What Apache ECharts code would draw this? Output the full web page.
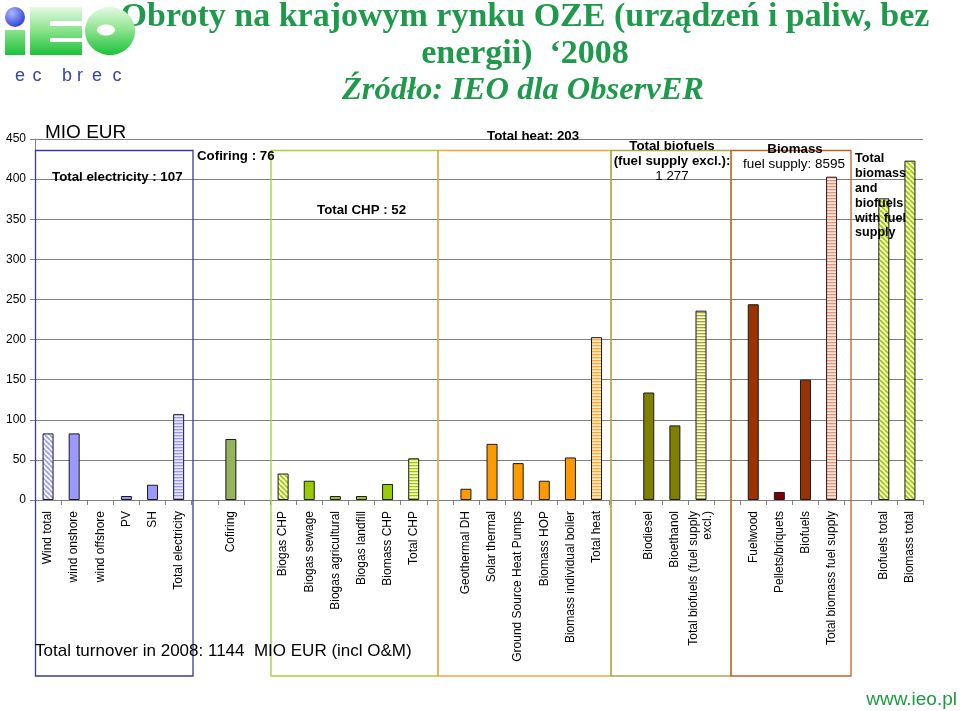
<!DOCTYPE html>
<html><head><meta charset="utf-8">
<script src="https://cdn.jsdelivr.net/npm/echarts@6/dist/echarts.min.js"></script>
<style>html,body{margin:0;padding:0;background:#fff}#c{width:960px;height:711px}</style>
</head><body><div id="c"></div>
<script>
// ---- data ----
const categories = ['Wind total','wind onshore','wind offshore','PV','SH','Total electricity','','Cofiring','',
  'Biogas CHP','Biogas sewage','Biogas agricultural','Biogas landfill','Biomass CHP','Total CHP','',
  'Geothermal DH','Solar thermal','Ground Source Heat Pumps','Biomass HOP','Biomass individual boiler','Total heat','',
  'Biodiesel','Bioethanol','Total biofuels (fuel supply\nexcl.)','',
  'Fuelwood','Pellets/briquets','Biofuels','Total biomass fuel supply','',
  'Biofuels total','Biomass total'];
const values = [83,83,0,5,19,107,null,76,null,
  33,24,5,5,20,52,null,
  14,70,46,24,53,203,null,
  134,93,236,null,
  244,10,150,403,null,
  376,423];
const barKinds = ['blueDiag','blue','blue','blue','blue','blueStripe',null,'cofiring',null,
  'greenDiag','green','green','green','green','greenStripe',null,
  'orange','orange','orange','orange','orange','orangeStripe',null,
  'olive','olive','oliveStripe',null,
  'brown','darkred','brown','salmonStripe',null,
  'greenDiag','greenDiag'];
const yMin = 0, yMax = 450, yStep = 50;

// ---- patterns ----
function diag(bg, fg){
  const s = 5, c = document.createElement('canvas'); c.width = s; c.height = s;
  const g = c.getContext('2d'); g.fillStyle = bg; g.fillRect(0,0,s,s);
  g.strokeStyle = fg; g.lineWidth = 1.7;
  [-s,0,s].forEach(dx=>{ g.beginPath(); g.moveTo(dx,0); g.lineTo(dx+s,s); g.stroke(); });
  return {image: c, repeat: 'repeat'};
}
function stripe(bg, fg){
  const c = document.createElement('canvas'); c.width = 4; c.height = 3;
  const g = c.getContext('2d'); g.fillStyle = bg; g.fillRect(0,0,4,3);
  g.fillStyle = fg; g.fillRect(0,0,4,1.3);
  return {image: c, repeat: 'repeat'};
}
const fills = {
  blue: '#9999FF',
  blueDiag: diag('#FFFFFF', '#9999FF'),
  blueStripe: stripe('#E8E8FF', '#9999FF'),
  cofiring: '#92B45A',
  green: '#99CC00',
  greenDiag: diag('#FFFFCC', '#99CC00'),
  greenStripe: stripe('#FFFFCC', '#99CC00'),
  orange: '#FF9900',
  orangeStripe: stripe('#FFEBC8', '#FFA830'),
  olive: '#808000',
  oliveStripe: stripe('#FFFFCC', '#A0A040'),
  brown: '#993300',
  darkred: '#800000',
  salmonStripe: stripe('#FFE8E0', '#F08C78')
};
const seriesData = values.map((v,i)=> v === null ? '-' : {
  value: v,
  itemStyle: {color: fills[barKinds[i]], borderColor: '#1a1a1a', borderWidth: v === 0 ? 0 : 1}
});

const chart = echarts.init(document.getElementById('c'), null, {renderer: 'canvas'});
const F = 'Liberation Sans, Arial, sans-serif';
const boxes = [
  {x: 35.5, x2: 193, color: '#3A3A96'},
  {x: 271, x2: 438, color: '#A8CC3C'},
  {x: 438, x2: 611, color: '#F2A640'},
  {x: 611, x2: 731, color: '#A8A84A'},
  {x: 731, x2: 851, color: '#C0602A'}
];
const gradGreen = {type:'linear', x:0, y:7, x2:0, y2:56, global:true,
  colorStops:[{offset:0,color:'#E4FAE4'},{offset:0.45,color:'#8FE48F'},{offset:1,color:'#18C038'}]};
const graphic = [];
boxes.forEach(b=>graphic.push({type:'rect', z:100, shape:{x:b.x, y:150.5, width:b.x2-b.x, height:525.5},
  style:{fill:'none', stroke:b.color, lineWidth:1.3}}));
const B = 'bold 13.3px ' + F;
function txt(x, y, t, o){ graphic.push({type:'text', z:101, x, y, style:Object.assign({text:t, font:B, fill:'#000', textVerticalAlign:'middle'}, o||{})}); }
txt(45, 133, 'MIO EUR', {font:'19px '+F});
txt(52, 177, 'Total electricity : 107');
txt(197, 156, 'Cofiring : 76');
txt(317, 210, 'Total CHP : 52');
txt(487, 136, 'Total heat: 203');
txt(672, 146, 'Total biofuels', {textAlign:'center'});
txt(672, 161, '(fuel supply excl.):', {textAlign:'center'});
txt(672, 176, '1 277', {textAlign:'center', font:'13.3px '+F});
txt(795, 149, 'Biomass', {textAlign:'center'});
txt(794, 164, 'fuel supply: 8595', {textAlign:'center', font:'13.5px '+F});
['Total','biomass','and','biofuels','with fuel','supply'].forEach((s,i)=>txt(855, 159 + i*14.8, s, {font:'bold 12.6px '+F}));
txt(35, 651, 'Total turnover in 2008: 1144  MIO EUR (incl O&M)', {font:'17px '+F});
// title
const TF = 'bold 34px Liberation Serif, Times New Roman, serif';
txt(525, 17, 'Obroty na krajowym rynku OZE (urządzeń i paliw, bez', {textAlign:'center', font:TF, fill:'#1F9A4C'});
txt(525, 54, 'energii)  \u20182008', {textAlign:'center', font:TF, fill:'#1F9A4C'});
txt(523, 91, 'Źródło: IEO dla ObservER', {textAlign:'center', font:'italic bold 32.5px Liberation Serif, Times New Roman, serif', fill:'#1F9A4C'});
// footer
txt(957, 700, 'www.ieo.pl', {textAlign:'right', font:'19px '+F, fill:'#1E9A40'});
// logo
graphic.push({type:'rect', z:101, shape:{x:5,y:30,width:20,height:25}, style:{fill:gradGreen}});
graphic.push({type:'circle', z:101, shape:{cx:15,cy:17,r:10}, style:{fill:{type:'radial',x:0.35,y:0.3,r:0.8,colorStops:[{offset:0,color:'#A8B8FF'},{offset:1,color:'#2838D0'}]}}});
[[30,7,20,48],[50,7,32,14],[50,26,32,12],[50,42,32,13]].forEach(r=>graphic.push({type:'rect', z:101, shape:{x:r[0],y:r[1],width:r[2],height:r[3]}, style:{fill:gradGreen}}));
graphic.push({type:'ellipse', z:101, shape:{cx:110,cy:31,rx:25,ry:24}, style:{fill:gradGreen}});
graphic.push({type:'ellipse', z:102, shape:{cx:106,cy:30,rx:9,ry:5.5}, style:{fill:'#fff'}});
[['e',20],['c',37],['b',67],['r',80],['e',97],['c',117]].forEach(([t,x])=>txt(x, 76, t, {textAlign:'center', font:'18px '+F, fill:'#3344AA'}));

chart.setOption({
  animation: false,
  grid: {left: 35, right: 37, top: 139, bottom: 211, containLabel: false},
  xAxis: {
    type: 'category', data: categories,
    axisLine: {show: true, lineStyle: {color: '#808080'}},
    axisTick: {show: true, interval: 0, length: 5, lineStyle: {color: '#808080'}},
    axisLabel: {
      interval: 0, rotate: 90, margin: 11, color: '#000', fontFamily: F, fontSize: 12,
      formatter: v => v ? v.split('\n').map(s => '{a|' + s + '}').join('\n') : '',
      rich: {a: {fontFamily: F, fontSize: 12, lineHeight: 14, color: '#000'}}
    }
  },
  yAxis: {
    type: 'value', min: yMin, max: yMax, interval: yStep,
    axisLine: {show: true, lineStyle: {color: '#808080'}},
    axisTick: {show: true, length: 5, lineStyle: {color: '#808080'}},
    axisLabel: {color: '#000', fontFamily: F, fontSize: 12, margin: 9},
    splitLine: {show: true, lineStyle: {color: '#808080', width: 1}}
  },
  series: [{type: 'bar', data: seriesData, barWidth: 11, z: 5}],
  graphic: graphic
});
</script></body></html>
